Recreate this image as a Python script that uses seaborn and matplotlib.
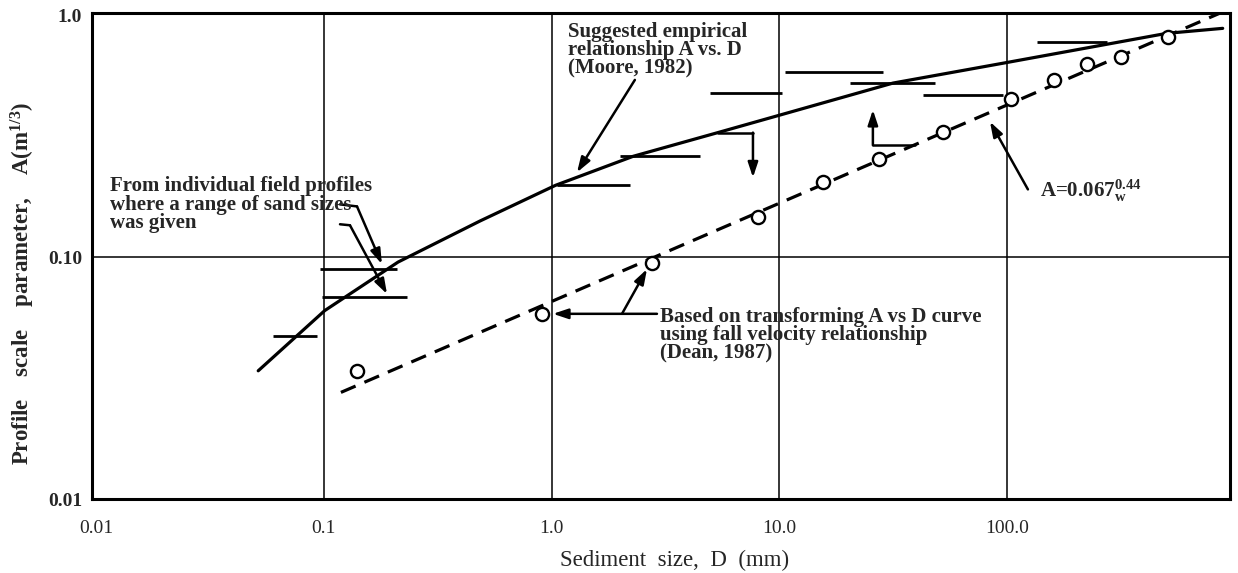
import pandas as pd
import matplotlib
matplotlib.use("Agg")
import matplotlib.pyplot as plt
import seaborn as sns

# Moore (1982) empirical curve, A vs D
moore_d = [0.0516, 0.101, 0.212, 0.485, 1.04, 2.28, 5.30, 10.2, 31.5, 95.7, 500, 881]
moore_a = [0.0339, 0.0601, 0.0954, 0.141, 0.198, 0.261, 0.326, 0.388, 0.524, 0.633, 0.841, 0.882]

# Dean (1987) fall velocity line, A = 0.067 w^0.44
dean_d = [0.119, 919]
dean_a = [0.0276, 1.049]

# open circles on the Dean line
circ_d = [0.140, 0.905, 2.76, 8.05, 15.5, 27.3, 52.0, 104, 160, 223, 314, 507]
circ_a = [0.0337, 0.0583, 0.0945, 0.146, 0.204, 0.2555, 0.328, 0.450, 0.540, 0.629, 0.670, 0.814]

# field profiles where a range of sand sizes was given
bar_lo = [0.0599, 0.0963, 0.0983, 1.053, 1.995, 4.955, 10.57, 20.4, 42.8, 134.5]
bar_hi = [0.0935, 0.2097, 0.232, 2.208, 4.48, 10.23, 28.5, 48.1, 95.9, 272.8]
bar_a = [0.0474, 0.0893, 0.0681, 0.198, 0.261, 0.476, 0.584, 0.524, 0.469, 0.771]

x_ticks = [0.01, 0.1, 1.0, 10.0, 100.0]
x_labels = ["0.01", "0.1", "1.0", "10.0", "100.0"]
y_ticks = [0.01, 0.1, 1.0]
y_labels = ["0.01", "0.10", "1.0"]

sns.set_style("white")
plt.rcParams["font.family"] = ["Liberation Serif", "DejaVu Serif"]
plt.rcParams["mathtext.fontset"] = "custom"
plt.rcParams["mathtext.rm"] = "Liberation Serif"
plt.rcParams["mathtext.it"] = "Liberation Serif"
plt.rcParams["mathtext.bf"] = "Liberation Serif:bold"

fig = plt.figure(figsize=(12.38, 5.73), dpi=100)
ax = fig.add_axes([0.0743, 0.129, 0.9192, 0.848])
ax.set_xscale("log")
ax.set_yscale("log")
ax.set_xlim(0.00962, 948)
ax.set_ylim(0.0102, 1.019)

# grid lines
for gx in [0.1, 1.0, 10.0, 100.0]:
    ax.axvline(gx, color="black", lw=1.1, zorder=1)
ax.axhline(0.1, color="black", lw=1.1, zorder=1)

moore = pd.DataFrame({"D": moore_d, "A": moore_a})
dean = pd.DataFrame({"D": dean_d, "A": dean_a})
circ = pd.DataFrame({"D": circ_d, "A": circ_a})

sns.lineplot(data=moore, x="D", y="A", color="black", lw=2.3, ax=ax)
sns.lineplot(data=dean, x="D", y="A", color="black", lw=2.3, ax=ax,
             linestyle=(0, (5, 3)))
sns.scatterplot(data=circ, x="D", y="A", s=90, facecolor="white",
                edgecolor="black", linewidth=1.7, ax=ax, zorder=5)
ax.hlines(bar_a, bar_lo, bar_hi, color="black", lw=2.0, zorder=4)

arrow = dict(arrowstyle="-|>,head_length=0.9,head_width=0.3", color="black",
             lw=1.8, shrinkA=0, shrinkB=0)
txt = dict(fontsize=15, fontweight="bold", linespacing=0.88, va="top")

# step arrows
ax.plot([5.37, 7.65], [0.327, 0.327], color="black", lw=1.8)
ax.annotate("", xy=(7.65, 0.2134), xytext=(7.65, 0.327), arrowprops=arrow)
ax.plot([25.7, 39.3], [0.290, 0.290], color="black", lw=1.8)
ax.annotate("", xy=(25.7, 0.406), xytext=(25.7, 0.290), arrowprops=arrow)

# Moore label
ax.text(1.18, 0.936, "Suggested empirical\nrelationship A vs. D\n(Moore, 1982)", **txt)
ax.annotate("", xy=(1.293, 0.224), xytext=(2.32, 0.540), arrowprops=arrow)

# field profiles label
ax.text(0.01154, 0.2155, "From individual field profiles\nwhere a range of sand sizes\nwas given", **txt)
ax.plot([0.1179, 0.140], [0.1652, 0.162], color="black", lw=1.8)
ax.annotate("", xy=(0.180, 0.0936), xytext=(0.140, 0.162), arrowprops=arrow)
ax.plot([0.1179, 0.1304], [0.1367, 0.1354], color="black", lw=1.8)
ax.annotate("", xy=(0.1896, 0.0704), xytext=(0.1304, 0.1354), arrowprops=arrow)

# Dean label
ax.text(2.99, 0.0622, "Based on transforming A vs D curve\nusing fall velocity relationship\n(Dean, 1987)", **txt)
ax.annotate("", xy=(1.014, 0.0583), xytext=(2.90, 0.0583), arrowprops=arrow)
ax.annotate("", xy=(2.622, 0.0892), xytext=(2.037, 0.0583), arrowprops=arrow)

# fitted line label
ax.text(139, 0.178, r"A=0.067$_{\mathbf{w}}^{\mathbf{0.44}}$", fontsize=15,
        fontweight="bold", va="baseline")
ax.annotate("", xy=(83.9, 0.3628), xytext=(123.1, 0.1905), arrowprops=arrow)

ax.set_xticks(x_ticks)
ax.set_xticklabels(x_labels)
ax.set_yticks(y_ticks)
ax.set_yticklabels(y_labels)
ax.minorticks_off()
ax.tick_params(axis="x", length=0, labelsize=14, pad=15)
ax.tick_params(axis="y", length=0, labelsize=14, pad=7)
for lab in ax.get_yticklabels():
    lab.set_fontweight("bold")

ax.set_xlabel("Sediment  size,  D  (mm)", fontsize=16.5, va="center")
ax.set_ylabel(r"Profile    scale    parameter,    A(m$^{\mathbf{1/3}}$)",
              fontsize=16.5, fontweight="bold", va="center")
ax.xaxis.set_label_coords(0.512, -0.1255)
ax.yaxis.set_label_coords(-0.0605, 0.444)

for sp in ax.spines.values():
    sp.set_linewidth(2.2)
    sp.set_color("black")

fig.savefig("out.png", dpi=100)
